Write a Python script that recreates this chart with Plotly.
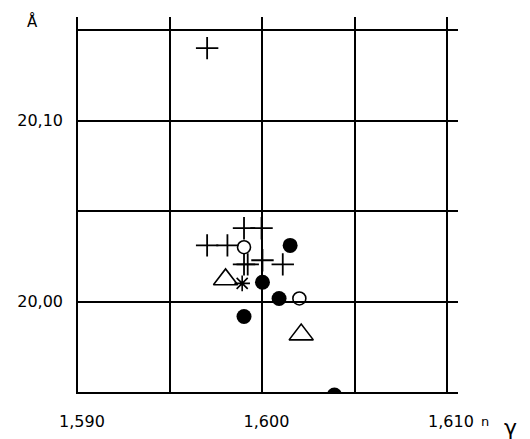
import plotly.graph_objects as go

# Data (n_gamma vs d in Å)
plus_x = [1.5970, 1.5970, 1.5981, 1.5990, 1.59995, 1.5990, 1.5992, 1.6000, 1.6011]
plus_y = [20.140, 20.031, 20.031, 20.0405, 20.0405, 20.0205, 20.0205, 20.0228, 20.0205]

open_circle_x = [1.5990, 1.6020]
open_circle_y = [20.030, 20.0017]

filled_circle_x = [1.6015, 1.6000, 1.6009, 1.5990, 1.6039]
filled_circle_y = [20.031, 20.0106, 20.0017, 19.9917, 19.9483]

triangle_x = [1.5980, 1.6021]
triangle_y = [20.0122, 19.9817]

asterisk_x = [1.5989]
asterisk_y = [20.0100]

x_tickvals = [1.590, 1.595, 1.600, 1.605, 1.610]
x_ticktext = ["1,590", "", "1,600", "", "1,610"]
y_tickvals = [19.95, 20.00, 20.05, 20.10, 20.15]
y_ticktext = ["", "20,00", "", "20,10", ""]

fig = go.Figure()
fig.add_trace(go.Scatter(x=plus_x, y=plus_y, mode="markers",
                         marker=dict(symbol="cross-thin-open", size=16, color="black",
                                     line=dict(color="black", width=1.8))))
fig.add_trace(go.Scatter(x=open_circle_x, y=open_circle_y, mode="markers",
                         marker=dict(symbol="circle-open", size=13, color="black",
                                     line=dict(color="black", width=1.6))))
fig.add_trace(go.Scatter(x=filled_circle_x, y=filled_circle_y, mode="markers",
                         marker=dict(symbol="circle", size=15, color="black",
                                     line=dict(width=0))))
fig.add_trace(go.Scatter(x=triangle_x, y=triangle_y, mode="markers",
                         marker=dict(symbol="triangle-up-open", size=21, color="black",
                                     line=dict(color="black", width=1.6))))
fig.add_trace(go.Scatter(x=asterisk_x, y=asterisk_y, mode="markers",
                         marker=dict(symbol="asterisk-open", size=13, color="black",
                                     line=dict(color="black", width=1.6))))

font = dict(family="DejaVu Sans", size=16, color="black")

fig.update_layout(
    width=530, height=439,
    margin=dict(l=78, r=72, t=17, b=47),
    paper_bgcolor="white", plot_bgcolor="white",
    showlegend=False,
    font=font,
    xaxis=dict(range=[1.590, 1.6106], tickvals=x_tickvals, ticktext=x_ticktext,
               showgrid=True, gridcolor="black", gridwidth=1.5,
               showline=True, linecolor="black", linewidth=1.5,
               zeroline=False, ticks="", tickfont=font, automargin=False,
               ticklabelshift=4, ticklabelstandoff=14),
    yaxis=dict(range=[19.95, 20.1572], tickvals=y_tickvals, ticktext=y_ticktext,
               showgrid=True, gridcolor="black", gridwidth=1.5,
               showline=True, linecolor="black", linewidth=1.5,
               zeroline=False, ticks="", tickfont=font, automargin=False,
               ticklabelstandoff=10),
    annotations=[
        dict(text="Å", xref="paper", yref="paper", x=-0.121, y=0.987,
             showarrow=False, xanchor="center", yanchor="middle",
             font=dict(family="DejaVu Sans", size=15, color="black")),
        dict(text="n", xref="paper", yref="paper", x=1.071, y=-0.078,
             showarrow=False, xanchor="center", yanchor="middle",
             font=dict(family="DejaVu Sans", size=13, color="black")),
        dict(text="γ", xref="paper", yref="paper", x=1.137, y=-0.095,
             showarrow=False, xanchor="center", yanchor="middle",
             font=dict(family="DejaVu Sans", size=22, color="black")),
    ],
)

fig.write_html("out.html")
